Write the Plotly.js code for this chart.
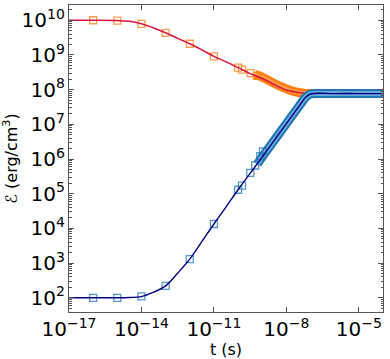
<!DOCTYPE html>
<html>
<head>
<meta charset="utf-8">
<script src="https://cdn.plot.ly/plotly-3.0.1.min.js"></script>
<style>
  html, body { margin: 0; padding: 0; background: #fff; }
  #chart { width: 390px; height: 359px; }
</style>
</head>
<body>
<div id="chart"></div>
<script>
// time samples of the simulation (s), sparse early points
const simTimes = [1e-16, 1e-15, 1e-14, 1e-13, 1e-12, 1e-11, 1e-10, 1.45e-10, 3.3e-10, 6e-10];
const simTimesBlue = [1e-16, 1e-15, 1e-14, 1e-13, 1e-12, 1e-11, 1e-10, 1.45e-10, 3.2e-10, 5.1e-10, 8.3e-10, 1.07e-9];

// energy density of the hot population (orange squares)
const simHot = [1.0e10, 9.8e9, 7.9e9, 4.35e9, 2.1e9, 9.1e8, 4.3e8, 3.8e8, 3.0e8, 2.5e8];
// energy density of the cold population (blue squares)
const simCold = [1.0e2, 1.0e2, 1.1e2, 2.2e2, 1.3e3, 1.34e4, 1.3e5, 1.7e5, 4.0e5, 6.5e5, 1.2e6, 1.65e6];

// dense simulation output, drawn as a band
const bandHotTimes = [5e-10, 1e-9, 3.2e-9, 1e-8, 2e-8, 3.2e-8, 6.3e-8, 1e-7, 1e-6, 1e-4];
const bandHot = [2.7e8, 2.3e8, 1.5e8, 1.05e8, 8.9e7, 8.3e7, 7.8e7, 7.7e7, 7.7e7, 7.7e7];
const bandColdTimes = [6.3e-10, 1e-9, 3.2e-9, 1e-8, 3.2e-8, 6.3e-8, 1e-7, 3.2e-7, 1e-6, 1e-4];
const bandCold = [7.2e5, 1.15e6, 3.5e6, 1.05e7, 3.2e7, 6.0e7, 7.5e7, 7.7e7, 7.7e7, 7.7e7];

// model curves
const modelTimes = [1e-17, 1e-16, 1e-15, 3.2e-15, 1e-14, 3.2e-14, 1e-13, 3.2e-13, 1e-12, 3.2e-12, 1e-11, 3.2e-11, 1e-10, 3.2e-10, 1e-9, 3.2e-9, 1e-8, 3.2e-8, 6.3e-8, 1e-7, 1e-6, 1e-5, 1e-4];
const modelHot = [1.0e10, 1.0e10, 9.8e9, 9.3e9, 7.9e9, 6.0e9, 4.35e9, 3.0e9, 2.1e9, 1.4e9, 9.1e8, 6.3e8, 4.3e8, 2.9e8, 2.1e8, 1.4e8, 9.8e7, 8.3e7, 7.8e7, 7.7e7, 7.7e7, 7.7e7, 7.7e7];
const modelCold = [1.0e2, 1.0e2, 1.0e2, 1.02e2, 1.08e2, 1.45e2, 2.2e2, 5.2e2, 1.3e3, 4.2e3, 1.34e4, 4.2e4, 1.3e5, 3.9e5, 1.15e6, 3.5e6, 1.05e7, 3.2e7, 6.0e7, 7.5e7, 7.7e7, 7.7e7, 7.7e7];

const hotColor = '#ff7f0e';
const coldColor = '#1f77b4';

const traces = [
  // dense hot band
  {x: bandHotTimes, y: bandHot, mode: 'lines', line: {color: hotColor, width: 9, shape: 'spline'}, hoverinfo: 'skip'},
  {x: bandHotTimes, y: bandHot, mode: 'lines', line: {color: '#ff9a45', width: 4, shape: 'spline'}, hoverinfo: 'skip'},
  // sparse hot squares
  {x: simTimes, y: simHot, mode: 'markers',
   marker: {symbol: 'square-open', size: 7, color: 'rgba(255,127,14,0.75)', line: {width: 1.3}}},
  // hot model
  {x: modelTimes, y: modelHot, mode: 'lines', line: {color: 'crimson', width: 1.5, shape: 'spline'}},
  // dense cold band
  {x: bandColdTimes, y: bandCold, mode: 'lines', line: {color: coldColor, width: 9, shape: 'spline'}, hoverinfo: 'skip'},
  {x: bandColdTimes, y: bandCold, mode: 'lines', line: {color: '#6aa8d8', width: 5, shape: 'spline'}, hoverinfo: 'skip'},
  // sparse cold squares
  {x: simTimesBlue, y: simCold, mode: 'markers',
   marker: {symbol: 'square-open', size: 7, color: 'rgba(31,119,180,0.75)', line: {width: 1.3}}},
  // cold model
  {x: modelTimes, y: modelCold, mode: 'lines', line: {color: '#000080', width: 1.4, shape: 'spline'}}
];

const axisFont = {family: 'DejaVu Sans', size: 16, color: '#000'};

const layout = {
  width: 390,
  height: 359,
  margin: {l: 69, r: 7, t: 5, b: 47},
  paper_bgcolor: '#fff',
  plot_bgcolor: '#fff',
  showlegend: false,
  font: axisFont,
  xaxis: {
    type: 'log',
    range: [-17, -4],
    tick0: -17,
    dtick: 3,
    exponentformat: 'power',
    showgrid: false,
    zeroline: false,
    showline: true,
    linecolor: '#555',
    linewidth: 1,
    mirror: 'ticks',
    ticks: 'inside',
    ticklen: 5,
    tickcolor: '#555',
    tickfont: axisFont,
    automargin: true,
    title: {text: 't (s)', font: axisFont, standoff: 1}
  },
  yaxis: {
    type: 'log',
    range: [1.59, 10.44],
    dtick: 1,
    exponentformat: 'power',
    showgrid: false,
    zeroline: false,
    showline: true,
    linecolor: '#555',
    linewidth: 1,
    mirror: 'ticks',
    ticks: 'inside',
    ticklen: 5,
    tickcolor: '#555',
    tickfont: axisFont,
    minor: {ticks: 'inside', ticklen: 2.5, tickcolor: '#555', showgrid: false},
    automargin: true,
    title: {text: 'ℰ (erg/cm<sup>3</sup>)', font: axisFont, standoff: 4}
  }
};

Plotly.newPlot('chart', traces, layout, {staticPlot: true});
</script>
</body>
</html>
